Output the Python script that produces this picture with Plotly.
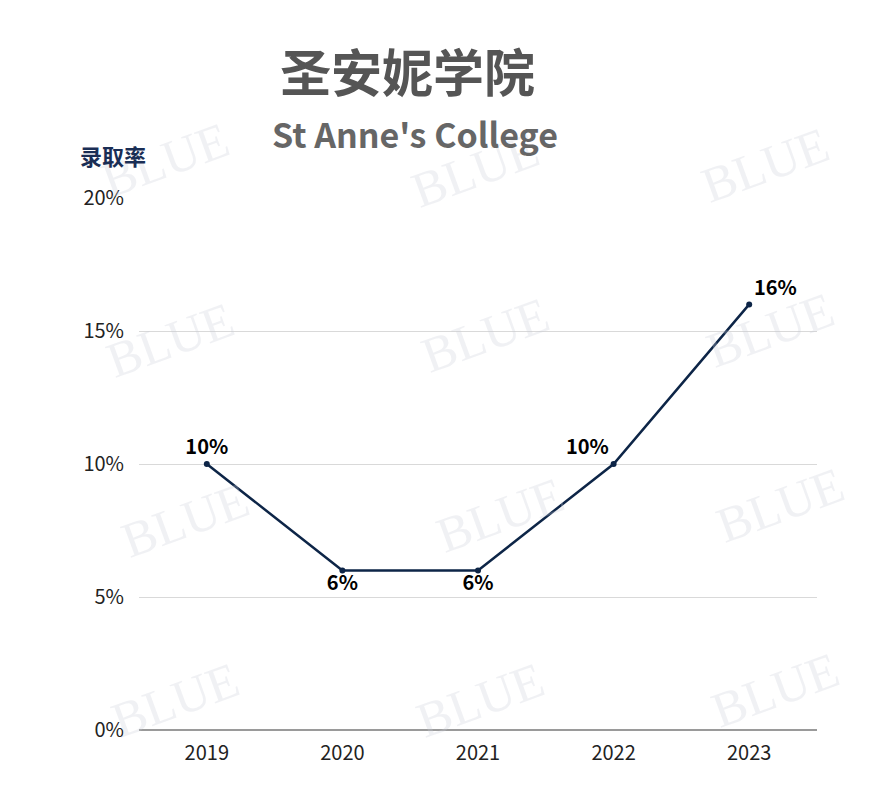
import plotly.graph_objects as go

years = ["2019", "2020", "2021", "2022", "2023"]
rates = [10, 6, 6, 10, 16]
labels = ["10%", "6%", "6%", "10%", "16%"]
label_pos = ["top center", "bottom center", "bottom center", "top left", "top right"]
y_ticks = [0, 5, 10, 15, 20]

# page body has an 8px margin, so the figure starts at (8, 8)
OFF = 8
W, H = 887 - OFF, 810 - OFF
L, R, T, B = 139 - OFF, 70, 198 - OFF, 80
PW, PH = W - L - R, H - T - B

def px(x):
    return (x - OFF - L) / PW

def py(y):
    return (H - B - (y - OFF)) / PH

fig = go.Figure()
fig.add_trace(go.Scatter(
    x=years, y=rates, mode="lines+markers+text",
    text=labels, textposition=label_pos,
    textfont=dict(family="Noto Sans CJK SC", size=20, color="#000000", weight="bold"),
    line=dict(color="#0d2547", width=2.5),
    marker=dict(color="#0d2547", size=6),
    cliponaxis=False, showlegend=False,
))

annotations = []
# watermarks
wm = [(165, 160), (475, 170), (765, 165), (170, 340), (485, 335), (770, 330),
      (185, 520), (500, 515), (780, 505), (175, 700), (480, 700), (775, 690)]
for (x, y) in wm:
    annotations.append(dict(x=px(x), y=py(y), xref="paper", yref="paper", text="BLUE",
                            showarrow=False, textangle=-20, xanchor="center", yanchor="middle",
                            font=dict(family="Liberation Serif", size=50, color="rgba(200,205,215,0.28)")))
annotations += [
    dict(x=px(407), y=py(70), xref="paper", yref="paper", text="圣安妮学院", showarrow=False,
         xanchor="center", yanchor="middle",
         font=dict(family="Noto Sans CJK SC", size=51, color="#555555", weight="bold")),
    dict(x=px(415), y=py(133), xref="paper", yref="paper", text="St Anne's College", showarrow=False,
         xanchor="center", yanchor="middle",
         font=dict(family="Noto Sans CJK SC", size=34, color="#666666", weight="bold")),
    dict(x=px(113), y=py(155), xref="paper", yref="paper", text="录取率", showarrow=False,
         xanchor="center", yanchor="middle",
         font=dict(family="Noto Sans CJK SC", size=22, color="#1a2e55", weight="bold")),
]

fig.update_layout(
    width=W, height=H,
    margin=dict(l=L, r=R, t=T, b=B),
    paper_bgcolor="white", plot_bgcolor="white",
    annotations=annotations,
    xaxis=dict(type="category", range=[-0.5, len(years) - 0.5],
               showgrid=False, showline=False, zeroline=False,
               tickfont=dict(family="Noto Sans CJK SC", size=20, color="#222222"),
               ticks="", ticklabelstandoff=9),
    yaxis=dict(range=[0, 20], tickvals=y_ticks, ticktext=[f"{v}%" for v in y_ticks],
               showgrid=True, gridcolor="#d9d9d9", gridwidth=1,
               zeroline=True, zerolinecolor="#9a9a9a", zerolinewidth=1.5,
               showline=False, ticks="",
               tickfont=dict(family="Noto Sans CJK SC", size=20, color="#222222"),
               ticklabelstandoff=14),
)

fig.write_html("out.html")
